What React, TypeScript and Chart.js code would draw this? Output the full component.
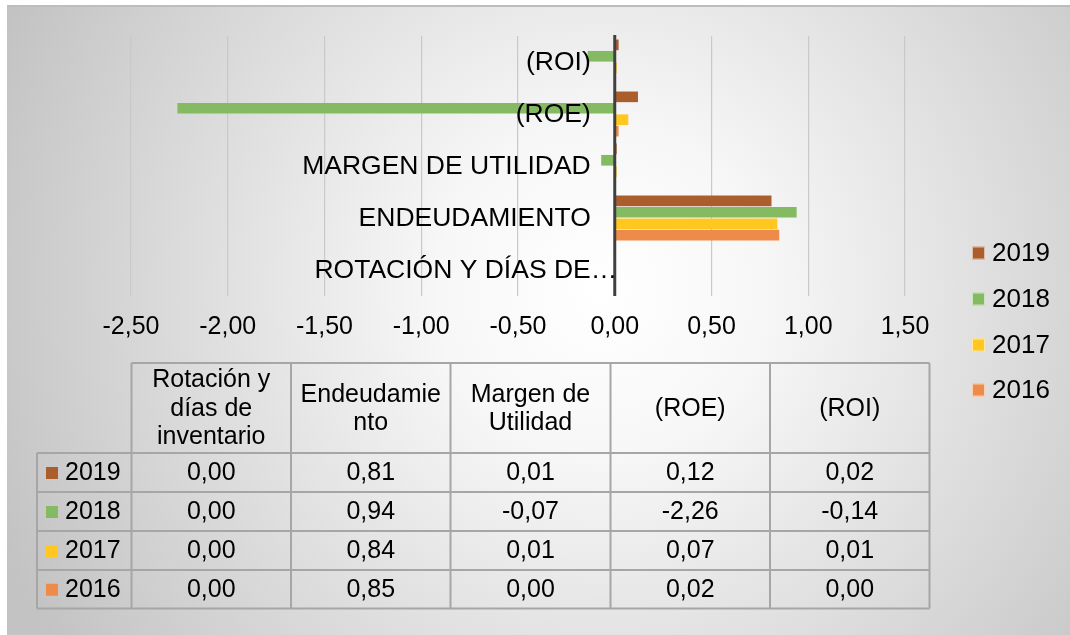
import React, { useEffect, useRef } from 'react';
import { Chart, registerables } from 'chart.js';

Chart.register(...registerables);

// ---- data (Excel order: first category is Rotación) ----
const categories = ['Rotación y días de inventario', 'Endeudamiento', 'Margen de Utilidad', '(ROE)', '(ROI)'];
const axisLabels = ['ROTACIÓN Y DÍAS DE…', 'ENDEUDAMIENTO', 'MARGEN DE UTILIDAD', '(ROE)', '(ROI)'];
const tableHeaderLines = [['Rotación y', 'días de', 'inventario'], ['Endeudamie', 'nto'], ['Margen de', 'Utilidad'], ['(ROE)'], ['(ROI)']];
const seriesNames = ['2019', '2018', '2017', '2016'];
const values2019 = [0.0, 0.81, 0.01, 0.12, 0.02];
const values2018 = [0.0, 0.94, -0.07, -2.26, -0.14];
const values2017 = [0.0, 0.84, 0.01, 0.07, 0.01];
const values2016 = [0.0, 0.85, 0.0, 0.02, 0.0];
const seriesValues = [values2019, values2018, values2017, values2016];
const seriesColors = ['#AB5E2C', '#84BA62', '#FFC720', '#EE8B4A'];
const xMin = -2.5;
const xMax = 1.5;
const xStep = 0.5;

const FONT = '"Liberation Sans", Arial, sans-serif';
const fmt = (v: number) => v.toFixed(2).replace('.', ',');

// layout constants for the data table / legend
const tableCols = [131.5, 291, 450.5, 610.5, 770, 929.5];
const tableRows = [363, 453, 492, 531, 570, 608.5];
const rowHeaderLeft = 37;
const legendX = 972;
const legendYs = [253, 299, 345, 390];

export default function App() {
  const ref = useRef<HTMLCanvasElement | null>(null);

  useEffect(() => {
    if (!ref.current) return;
    // chart shows categories top-to-bottom in reverse Excel order
    const labels = [...axisLabels].reverse();
    const datasets = seriesNames.map((name, i) => ({
      label: name,
      data: [...seriesValues[i]].reverse(),
      backgroundColor: seriesColors[i],
      borderWidth: 0,
      categoryPercentage: 0.88,
      barPercentage: 0.93,
    }));

    const bgPlugin = {
      id: 'bg',
      beforeDraw(chart: any) {
        const ctx = chart.ctx;
        const W = chart.width;
        const H = chart.height;
        ctx.save();
        ctx.fillStyle = '#ffffff';
        ctx.fillRect(0, 0, W, H);
        const g = ctx.createRadialGradient(600, 290, 0, 600, 290, 650);
        g.addColorStop(0, '#ffffff');
        g.addColorStop(0.25, '#f7f7f7');
        g.addColorStop(1, '#c3c3c3');
        ctx.fillStyle = g;
        ctx.fillRect(7, 5, W - 7, H - 5);
        ctx.fillStyle = '#bdbdbd';
        ctx.fillRect(7, 5, W - 7, 2);
        ctx.restore();
      },
    };

    const overlayPlugin = {
      id: 'overlay',
      afterDatasetsDraw(chart: any) {
        const ctx = chart.ctx;
        const xs = chart.scales.x;
        const ys = chart.scales.y;
        const area = chart.chartArea;
        const zero = xs.getPixelForValue(0);
        ctx.save();
        // vertical axis line at zero
        ctx.strokeStyle = '#404040';
        ctx.lineWidth = 3;
        ctx.beginPath();
        ctx.moveTo(zero, area.top - 1);
        ctx.lineTo(zero, area.bottom);
        ctx.stroke();
        // category labels next to axis
        ctx.font = '26.5px ' + FONT;
        ctx.fillStyle = '#000';
        ctx.textBaseline = 'middle';
        const right = zero - 24;
        labels.forEach((lab, i) => {
          const y = ys.getPixelForValue(i) + 1;
          if (lab.endsWith('…')) {
            const main = lab.slice(0, -1);
            ctx.textAlign = 'right';
            ctx.fillText(main, right, y);
            ctx.textAlign = 'left';
            ctx.fillText('…', right, y);
          } else {
            ctx.textAlign = 'right';
            ctx.fillText(lab, right, y);
          }
        });
        ctx.restore();
      },
      afterDraw(chart: any) {
        const ctx = chart.ctx;
        ctx.save();
        // legend
        ctx.font = '26px ' + FONT;
        ctx.textBaseline = 'middle';
        ctx.textAlign = 'left';
        seriesNames.forEach((name, i) => {
          const y = legendYs[i];
          ctx.fillStyle = seriesColors[i];
          ctx.fillRect(legendX, y - 6.5, 13, 13);
          ctx.strokeStyle = 'rgba(255,255,255,0.6)';
          ctx.lineWidth = 1;
          ctx.strokeRect(legendX + 0.5, y - 6, 12, 12);
          ctx.fillStyle = '#000';
          ctx.fillText(name, legendX + 20, y + 1);
        });

        // data table borders
        ctx.strokeStyle = '#a6a6a6';
        ctx.lineWidth = 2;
        ctx.beginPath();
        ctx.moveTo(tableCols[0], tableRows[0]);
        ctx.lineTo(tableCols[tableCols.length - 1], tableRows[0]);
        for (let r = 1; r < tableRows.length; r++) {
          ctx.moveTo(rowHeaderLeft, tableRows[r]);
          ctx.lineTo(tableCols[tableCols.length - 1], tableRows[r]);
        }
        tableCols.forEach((x) => {
          ctx.moveTo(x, tableRows[0]);
          ctx.lineTo(x, tableRows[tableRows.length - 1]);
        });
        ctx.moveTo(rowHeaderLeft, tableRows[1]);
        ctx.lineTo(rowHeaderLeft, tableRows[tableRows.length - 1]);
        ctx.stroke();

        // header texts
        ctx.fillStyle = '#000';
        ctx.font = '25px ' + FONT;
        ctx.textAlign = 'center';
        ctx.textBaseline = 'middle';
        const headerMid = (tableRows[0] + tableRows[1]) / 2 + 1;
        const lh = 28.5;
        tableHeaderLines.forEach((lines, c) => {
          const cx = (tableCols[c] + tableCols[c + 1]) / 2;
          lines.forEach((ln, k) => {
            const y = headerMid + (k - (lines.length - 1) / 2) * lh;
            ctx.fillText(ln, cx, y);
          });
        });

        // rows
        seriesNames.forEach((name, r) => {
          const cy = (tableRows[r + 1] + tableRows[r + 2]) / 2 + 1;
          ctx.fillStyle = seriesColors[r];
          ctx.fillRect(46, cy - 6.5, 12, 12);
          ctx.fillStyle = '#000';
          ctx.textAlign = 'left';
          ctx.fillText(name, 65, cy);
          ctx.textAlign = 'center';
          seriesValues[r].forEach((v, c) => {
            const cx = (tableCols[c] + tableCols[c + 1]) / 2;
            ctx.fillText(fmt(v), cx, cy);
          });
        });
        ctx.restore();
      },
    };

    const chart = new Chart(ref.current, {
      type: 'bar',
      data: { labels, datasets },
      options: {
        responsive: false,
        animation: false,
        devicePixelRatio: 1,
        indexAxis: 'y',
        layout: { padding: { left: 131, right: 165, top: 36, bottom: 277 } },
        plugins: { legend: { display: false }, tooltip: { enabled: false } },
        scales: {
          x: {
            min: xMin,
            max: xMax,
            border: { display: false },
            grid: {
              drawTicks: false,
              lineWidth: 1.2,
              color: (c: any) => (c.tick && c.tick.value === 0 ? 'rgba(0,0,0,0)' : '#c9c9c9'),
            },
            ticks: {
              stepSize: xStep,
              padding: 16,
              maxRotation: 0,
              autoSkip: false,
              color: '#000',
              font: { family: FONT, size: 25 },
              callback: (v: any) => fmt(Number(v)),
            },
          },
          y: { display: false },
        },
      },
      plugins: [bgPlugin, overlayPlugin],
    } as any);
    return () => chart.destroy();
  }, []);

  return (
    <div style={{ position: 'fixed', left: 0, top: 0, width: 1070, height: 635 }}>
      <canvas ref={ref} width={1070} height={635} style={{ width: 1070, height: 635, display: 'block' }} />
    </div>
  );
}
